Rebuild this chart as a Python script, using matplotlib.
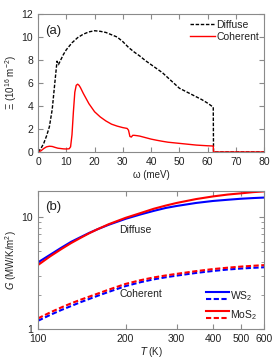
import matplotlib
matplotlib.use("Agg")
import matplotlib.pyplot as plt
from matplotlib.lines import Line2D
from matplotlib.legend_handler import HandlerBase
from matplotlib.ticker import FixedLocator, FixedFormatter, NullLocator, NullFormatter

plt.rcParams['font.family'] = ['Liberation Sans', 'DejaVu Sans']
plt.rcParams['mathtext.default'] = 'regular'
plt.rcParams['font.size'] = 7

# --- panel (a): number of channels vs frequency ---
w_diff = [0, 1, 2, 3, 4, 5, 6, 6.7, 7.2, 8, 9, 10, 12, 14, 16, 18, 20, 22, 24,
          26, 28, 30, 32, 34, 36, 38, 40, 42, 44, 46, 48, 50, 52, 54, 56, 58,
          60, 62, 62.1, 70, 80]
xi_diff = [0, 0.3, 0.75, 1.4, 2.2, 3.7, 6.2, 7.9, 7.6, 8.0, 8.5, 8.9, 9.5,
           9.95, 10.25, 10.45, 10.55, 10.5, 10.4, 10.2, 10.0, 9.6, 9.1, 8.7,
           8.35, 7.95, 7.6, 7.25, 6.9, 6.45, 6.0, 5.55, 5.3, 5.05, 4.8, 4.55,
           4.25, 3.9, 0, 0, 0]

w_coh = [0, 1, 2, 3, 4, 5, 6, 7, 8, 9, 10, 11, 11.5, 12, 12.5, 13, 13.5, 14,
         14.5, 15, 16, 17, 18, 19, 20, 22, 24, 26, 28, 30, 31.5, 32, 32.5, 33,
         33.5, 34, 35, 36, 38, 40, 42, 44, 46, 48, 50, 52, 54, 56, 58, 60, 62,
         62.1, 80]
xi_coh = [0, 0.1, 0.3, 0.45, 0.5, 0.48, 0.4, 0.33, 0.3, 0.27, 0.26, 0.28, 0.45,
          1.5, 3.5, 5.2, 5.8, 5.9, 5.8, 5.6, 5.1, 4.65, 4.2, 3.85, 3.5, 3.05,
          2.7, 2.42, 2.25, 2.12, 2.05, 1.9, 1.35, 1.3, 1.45, 1.45, 1.42, 1.38,
          1.25, 1.12, 1.02, 0.93, 0.85, 0.8, 0.75, 0.7, 0.65, 0.6, 0.57, 0.54,
          0.52, 0, 0]

# --- panel (b): conductance vs temperature ---
T = [100, 110, 120, 130, 140, 150, 160, 175, 200, 225, 250, 275, 300, 350,
     400, 450, 500, 550, 600]
G_ws2_diff = [3.94, 4.6, 5.3, 6.0, 6.6, 7.2, 7.75, 8.5, 9.6, 10.5, 11.3, 12.0,
              12.5, 13.3, 13.85, 14.2, 14.5, 14.7, 14.85]
G_mos2_diff = [3.73, 4.45, 5.15, 5.85, 6.5, 7.15, 7.75, 8.6, 9.8, 10.8, 11.8,
               12.6, 13.3, 14.4, 15.2, 15.8, 16.2, 16.6, 16.85]
G_ws2_coh = [1.19, 1.34, 1.48, 1.61, 1.74, 1.86, 1.98, 2.15, 2.42, 2.62, 2.78,
             2.9, 3.0, 3.17, 3.3, 3.4, 3.47, 3.52, 3.56]
G_mos2_coh = [1.25, 1.41, 1.56, 1.70, 1.83, 1.95, 2.07, 2.25, 2.53, 2.73, 2.89,
              3.01, 3.11, 3.29, 3.43, 3.53, 3.61, 3.67, 3.72]

SPINE = '#8a8a8a'
TEXT = '#222222'
DASH = (0, (2.5, 1.2))


class HandlerPair(HandlerBase):
    # solid line on top, dashed line below
    def create_artists(self, legend, orig_handle, xdescent, ydescent,
                       width, height, fontsize, trans):
        solid, dashed = orig_handle
        yc = height / 2 - ydescent
        gap = height * 0.28
        x = [-xdescent, width - xdescent]
        l1 = Line2D(x, [yc + gap] * 2, color=solid.get_color(), lw=1.5, ls='-')
        l2 = Line2D(x, [yc - gap] * 2, color=dashed.get_color(), lw=1.5, ls=DASH)
        for l in (l1, l2):
            l.set_transform(trans)
        return [l1, l2]


def style(ax):
    for s in ax.spines.values():
        s.set_color(SPINE)
        s.set_linewidth(0.8)
    ax.tick_params(which='both', direction='in', top=True, right=True,
                   color=SPINE, labelcolor=TEXT, labelsize=7.5)
    ax.tick_params(which='major', length=3.5)
    ax.tick_params(which='minor', length=2)


fig = plt.figure(figsize=(2.78, 3.61), dpi=100)
ax1 = fig.add_axes([0.137, 0.579, 0.813, 0.382])
ax2 = fig.add_axes([0.137, 0.088, 0.813, 0.383])

# panel (a)
ax1.plot(w_diff, xi_diff, color='black', lw=1.0, ls=DASH, label='Diffuse')
ax1.plot(w_coh, xi_coh, color='red', lw=1.0, label='Coherent')
ax1.set_xlim(0, 80)
ax1.set_ylim(0, 12)
ax1.set_xticks(range(0, 81, 10))
ax1.set_yticks(range(0, 13, 2))
ax1.set_xlabel('ω (meV)', color=TEXT, labelpad=2)
ax1.set_ylabel('Ξ (10$^{16}$ m$^{-2}$)', color=TEXT, labelpad=2)
style(ax1)
ax1.text(0.03, 0.88, '(a)', transform=ax1.transAxes, fontsize=9.5,
         color=TEXT, va='center', ha='left')
ax1.legend(loc='upper right', bbox_to_anchor=(1.01, 1.01), frameon=False,
           handlelength=2.4, handletextpad=0.1, labelspacing=0.2,
           fontsize=7.5, labelcolor=TEXT, borderaxespad=0.3)

# panel (b)
ws_d, = ax2.plot(T, G_ws2_diff, color='blue', lw=1.5)
mo_d, = ax2.plot(T, G_mos2_diff, color='red', lw=1.5)
ws_c, = ax2.plot(T, G_ws2_coh, color='blue', lw=1.5, ls=DASH)
mo_c, = ax2.plot(T, G_mos2_coh, color='red', lw=1.5, ls=DASH)
ax2.set_xscale('log')
ax2.set_yscale('log')
ax2.set_xlim(100, 600)
ax2.set_ylim(1, 17)
ax2.xaxis.set_major_locator(FixedLocator([100, 200, 300, 400, 500, 600]))
ax2.xaxis.set_major_formatter(FixedFormatter(['100', '200', '300', '400', '500', '600']))
ax2.xaxis.set_minor_locator(NullLocator())
ax2.yaxis.set_major_locator(FixedLocator([1, 10]))
ax2.yaxis.set_major_formatter(FixedFormatter(['1', '10']))
ax2.yaxis.set_minor_formatter(NullFormatter())
ax2.set_xlabel('$\\mathit{T}$ (K)', color=TEXT, labelpad=1)
ax2.set_ylabel('$\\mathit{G}$ (MW/K/m$^{2}$)', color=TEXT, labelpad=2)
style(ax2)
ax2.text(0.03, 0.886, '(b)', transform=ax2.transAxes, fontsize=9.5,
         color=TEXT, va='center', ha='left')
ax2.text(190, 7.7, 'Diffuse', fontsize=7.5, color=TEXT, va='center', ha='left')
ax2.text(190, 2.06, 'Coherent', fontsize=7.5, color=TEXT, va='center', ha='left')
ax2.legend([(ws_d, ws_c), (mo_d, mo_c)], ['WS$_2$', 'MoS$_2$'],
           handler_map={tuple: HandlerPair()}, loc='lower right',
           bbox_to_anchor=(1.0, 0.0), frameon=False, handlelength=2.2,
           handleheight=1.6, handletextpad=0.1, labelspacing=0.5,
           fontsize=7.5, labelcolor=TEXT, borderaxespad=0.3)

fig.savefig('out.png', dpi=100)
